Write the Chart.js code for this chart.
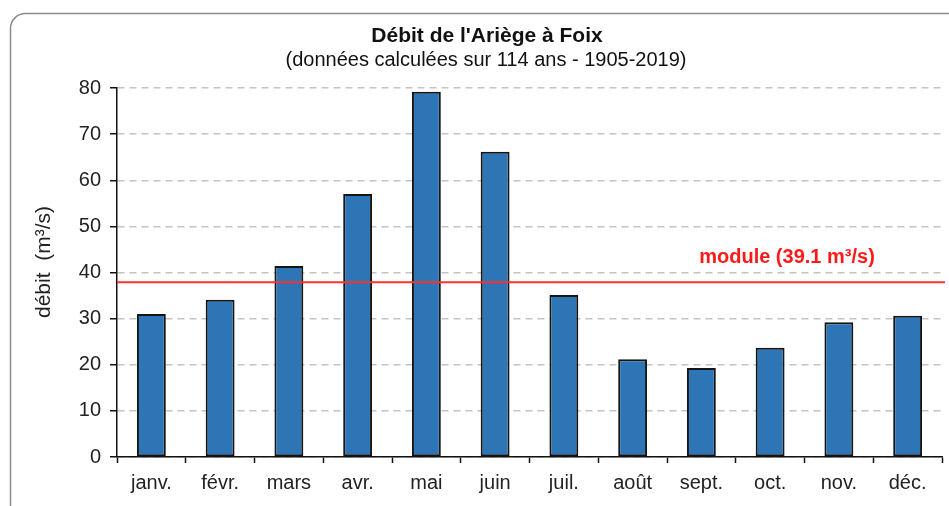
<!DOCTYPE html>
<html lang="fr">
<head>
<meta charset="utf-8">
<title>Débit de l'Ariège à Foix</title>
<script src="https://cdn.jsdelivr.net/npm/chart.js@4/dist/chart.umd.min.js"></script>
<style>
  html, body { margin: 0; padding: 0; background: #fff; }
  canvas { display: block; }
</style>
</head>
<body>
<canvas id="graphique" width="949" height="506"></canvas>
<script>
// Données (débits moyens mensuels, m3/s)
const mois = ['janv.', 'févr.', 'mars', 'avr.', 'mai', 'juin', 'juil.', 'août', 'sept.', 'oct.', 'nov.', 'déc.'];
const debits = [31.0, 34.1, 41.4, 57.0, 79.2, 66.2, 35.1, 21.2, 19.3, 23.7, 29.2, 30.6];
const graduations = [0, 10, 20, 30, 40, 50, 60, 70, 80];
const moduleLigne = 37.9;
const moduleTexte = 'module (39.1 m³/s)';

const titre = "Débit de l'Ariège à Foix";
const sousTitre = '(données calculées sur 114 ans - 1905-2019)';
const titreAxeY = 'débit  (m³/s)';

const police = '"Liberation Sans", Arial, sans-serif';

// Fond + cadre arrondi
const cadre = {
    id: 'cadre',
    beforeDraw(chart) {
        const ctx = chart.ctx;
        ctx.save();
        ctx.fillStyle = '#fff';
        ctx.fillRect(0, 0, chart.width, chart.height);
        ctx.strokeStyle = '#8c8c8c';
        ctx.lineWidth = 1.5;
        ctx.beginPath();
        ctx.roundRect(10.5, 13.5, 960, 520, 15);
        ctx.stroke();
        ctx.restore();
    }
};

// Titres et légende de l'axe Y
const textes = {
    id: 'textes',
    afterDraw(chart) {
        const ctx = chart.ctx;
        ctx.save();
        ctx.fillStyle = '#111';
        ctx.textAlign = 'center';
        ctx.textBaseline = 'alphabetic';
        ctx.font = 'bold 21px ' + police;
        ctx.fillText(titre, 487, 42);
        ctx.font = '20px ' + police;
        ctx.fillText(sousTitre, 486, 66);

        ctx.translate(44, 262);
        ctx.rotate(-Math.PI / 2);
        ctx.textBaseline = 'middle';
        ctx.fillStyle = '#222';
        ctx.font = '21px ' + police;
        ctx.fillText(titreAxeY, 0, 0);
        ctx.restore();
    }
};

// Ligne du module
const ligneModule = {
    id: 'ligneModule',
    afterDatasetsDraw(chart) {
        const ctx = chart.ctx;
        const y = chart.scales.y.getPixelForValue(moduleLigne);
        const area = chart.chartArea;
        ctx.save();
        ctx.strokeStyle = '#ff3030';
        ctx.lineWidth = 2;
        ctx.beginPath();
        ctx.moveTo(area.left, y);
        ctx.lineTo(945, y);
        ctx.stroke();
        ctx.fillStyle = '#ff1a1a';
        ctx.font = 'bold 20px ' + police;
        ctx.textAlign = 'center';
        ctx.textBaseline = 'alphabetic';
        ctx.fillText(moduleTexte, 787, 263);
        ctx.restore();
    }
};

const ctx = document.getElementById('graphique').getContext('2d');
const graphique = new Chart(ctx, {
    type: 'bar',
    data: {
        labels: mois,
        datasets: [{
            label: 'débit',
            data: debits,
            backgroundColor: '#2e75b6',
            borderColor: '#141414',
            borderWidth: 2,
            borderSkipped: false,
            barPercentage: 0.42,
            categoryPercentage: 1
        }]
    },
    options: {
        responsive: false,
        animation: false,
        devicePixelRatio: 1,
        layout: {
            padding: { top: 88, right: 7, bottom: 0, left: 0 }
        },
        plugins: {
            legend: { display: false },
            tooltip: { enabled: false }
        },
        scales: {
            x: {
                afterFit(s) { s.height = 49; },
                grid: {
                    display: true,
                    drawOnChartArea: false,
                    drawTicks: true,
                    tickLength: 6,
                    tickColor: '#111',
                    tickWidth: 1.5
                },
                border: { display: true, color: '#111', width: 1.5 },
                ticks: {
                    color: '#222',
                    padding: 8,
                    font: { family: police, size: 20 }
                }
            },
            y: {
                min: 0,
                max: 80,
                afterFit(s) { s.width = 117; },
                afterBuildTicks(s) { s.ticks = graduations.map(v => ({ value: v })); },
                grid: {
                    color: '#c4c4c4',
                    lineWidth: 1.5,
                    tickLength: 7,
                    tickColor: '#111',
                    tickWidth: 1.5
                },
                border: { display: true, color: '#111', width: 1.5, dash: [7, 5] },
                ticks: {
                    color: '#222',
                    padding: 9,
                    font: { family: police, size: 20 }
                }
            }
        }
    },
    plugins: [cadre, ligneModule, textes]
});
</script>
</body>
</html>
